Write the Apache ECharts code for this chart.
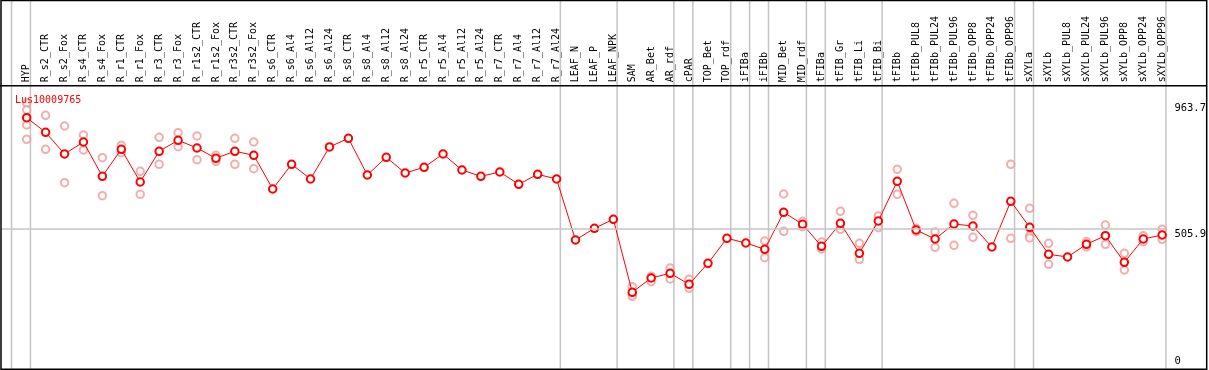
<!DOCTYPE html>
<html>
<head>
<meta charset="utf-8">
<script src="https://cdn.jsdelivr.net/npm/echarts@6/dist/echarts.min.js"></script>
<style>
html,body{margin:0;padding:0;background:#fff;}
#chart{width:1209px;height:370px;}
</style>
</head>
<body>
<div id="chart"></div>
<script>
const seriesName = 'Lus10009765';
const categories = ['HYP','R_s2_CTR','R_s2_Fox','R_s4_CTR','R_s4_Fox','R_r1_CTR','R_r1_Fox','R_r3_CTR','R_r3_Fox','R_r1s2_CTR','R_r1s2_Fox','R_r3s2_CTR','R_r3s2_Fox','R_s6_CTR','R_s6_Al4','R_s6_Al12','R_s6_Al24','R_s8_CTR','R_s8_Al4','R_s8_Al12','R_s8_Al24','R_r5_CTR','R_r5_Al4','R_r5_Al12','R_r5_Al24','R_r7_CTR','R_r7_Al4','R_r7_Al12','R_r7_Al24','LEAF_N','LEAF_P','LEAF_NPK','SAM','AR_Bet','AR_rdf','cPAR','TOP_Bet','TOP_rdf','iFIBa','iFIBb','MID_Bet','MID_rdf','tFIBa','tFIB_Gr','tFIB_Li','tFIB_Bi','tFIBb','tFIBb_PUL8','tFIBb_PUL24','tFIBb_PUL96','tFIBb_OPP8','tFIBb_OPP24','tFIBb_OPP96','sXYLa','sXYLb','sXYLb_PUL8','sXYLb_PUL24','sXYLb_PUL96','sXYLb_OPP8','sXYLb_OPP24','sXYLb_OPP96'];
const meanValues = [910.1,856.8,777.5,821.3,696.0,794.7,675.2,787.4,827.5,799.4,761.8,787.4,772.7,649.6,739.9,686.1,803.1,834.9,700.8,765.4,708.1,728.9,777.5,719.0,696.0,711.7,666.8,703.3,686.1,463.3,506.0,538.9,272.2,324.4,341.6,301.4,378.1,469.5,452.3,429.3,564.5,520.6,440.3,524.3,414.7,532.7,677.7,499.8,466.9,521.7,514.4,437.7,604.7,509.7,411.0,401.2,447.6,479.0,381.8,466.9,481.5];
const replicateValues = [
  [963.7,938.2,883.4,831.2],[918.9,794.7],[879.8,672.6],[846.9,792.1],[764.0,625.1],
  [809.3,782.2],[714.3,630.2],[838.5,739.9],[855.3,804.2],[843.3,756.7],
  [772.7,750.8],[834.9,739.9],[821.3,723.8],[],[],
  [],[],[],[],[],
  [],[],[],[],[],
  [],[],[],[],[],
  [],[],[292.6,266.0,257.6],[330.7,310.9],[361.0,320.8],
  [319.7,286.8],[],[],[],[459.6,398.6],
  [631.3,495.1],[531.6,511.9],[456.0,430.4],[568.1,502.4],[451.2,392.8],
  [551.0,508.2],[721.6,630.2],[506.0,493.6],[492.5,436.6],[597.4,443.9],
  [553.5,473.1],[],[739.9,469.5],[579.1,479.0,470.6],[451.2,374.5],
  [],[457.1,437.7],[518.1,447.6],[414.7,353.7],[479.0,457.1],
  [502.4,465.8]
];
const yTickTop = [963.7, 505.9];
const yTickBottom = [0];
const refLineValue = 505.9;
// group separators: drawn just after these category indices
const groupEnds = [-1,0,28,31,34,35,37,38,39,41,42,45,52,53,60];

const chart = echarts.init(document.getElementById('chart'), null, {renderer:'canvas'});
const mono = 'DejaVu Sans Mono';
const catIdx = categories.map((c,i)=>i);
const yMax = 1027;

const option = {
  animation:false,
  backgroundColor:'#fff',
  title:{text:seriesName,left:10,top:90,textStyle:{color:'#ff0000',fontSize:10,fontWeight:'normal',fontFamily:mono}},
  grid:{left:1.5,right:39,top:85.7,bottom:3.2,containLabel:false},
  xAxis:{type:'value',position:'top',min:-1.33,max:60.17,
    axisLine:{show:false},axisTick:{show:false},splitLine:{show:false},
    axisLabel:{show:true,rotate:90,margin:3.5,customValues:catIdx,
      formatter:v=>categories[Math.round(v)]||'',
      fontFamily:mono,fontSize:10,color:'#000'}},
  yAxis:[
    {type:'value',position:'right',min:0,max:yMax,
     axisLine:{show:false},axisTick:{show:false},splitLine:{show:false},
     axisLabel:{customValues:yTickTop,formatter:v=>String(v),verticalAlign:'top',margin:9,fontFamily:mono,fontSize:10.5,color:'#000'}},
    {type:'value',position:'right',min:0,max:yMax,
     axisLine:{show:false},axisTick:{show:false},splitLine:{show:false},
     axisLabel:{customValues:yTickBottom,formatter:v=>String(v),verticalAlign:'bottom',margin:9,fontFamily:mono,fontSize:10.5,color:'#000'}}
  ],
  series:[
    {type:'line',data:[],z:1,silent:true,
     markLine:{silent:true,symbol:'none',label:{show:false},
       lineStyle:{color:'#c4c4c4',type:'solid',width:1.5},
       data:[{yAxis:refLineValue}]}},
    {type:'scatter',name:'replicates',z:2,
     data:replicateValues.flatMap((arr,i)=>arr.map(v=>[i,v])),
     symbol:'emptyCircle',symbolSize:7.5,
     itemStyle:{color:'#ee9a9a',borderColor:'#ee9a9a',borderWidth:1.2}},
    {type:'line',name:seriesName,z:3,
     data:meanValues.map((v,i)=>[i,v]),
     symbol:'emptyCircle',symbolSize:7.5,
     lineStyle:{color:'#ff0000',width:1},
     itemStyle:{color:'#ff0000',borderColor:'#ff0000',borderWidth:1.4}}
  ]
};
chart.setOption(option);

const H = 370;
const graphics = [];
groupEnds.forEach(g=>{
  const x = chart.convertToPixel({xAxisIndex:0}, g + 0.2);
  graphics.push({type:'line',z:0,silent:true,shape:{x1:x,y1:0,x2:x,y2:H},style:{stroke:'#c4c4c4',lineWidth:1.5}});
});
graphics.push({type:'line',z:10,silent:true,shape:{x1:0,y1:85.7,x2:1207,y2:85.7},style:{stroke:'#000',lineWidth:1.5}});
graphics.push({type:'rect',z:10,silent:true,shape:{x:1,y:0.5,width:1205.7,height:368.7},style:{fill:'none',stroke:'#000',lineWidth:1.5}});
chart.setOption({graphic:graphics});
</script>
</body>
</html>
